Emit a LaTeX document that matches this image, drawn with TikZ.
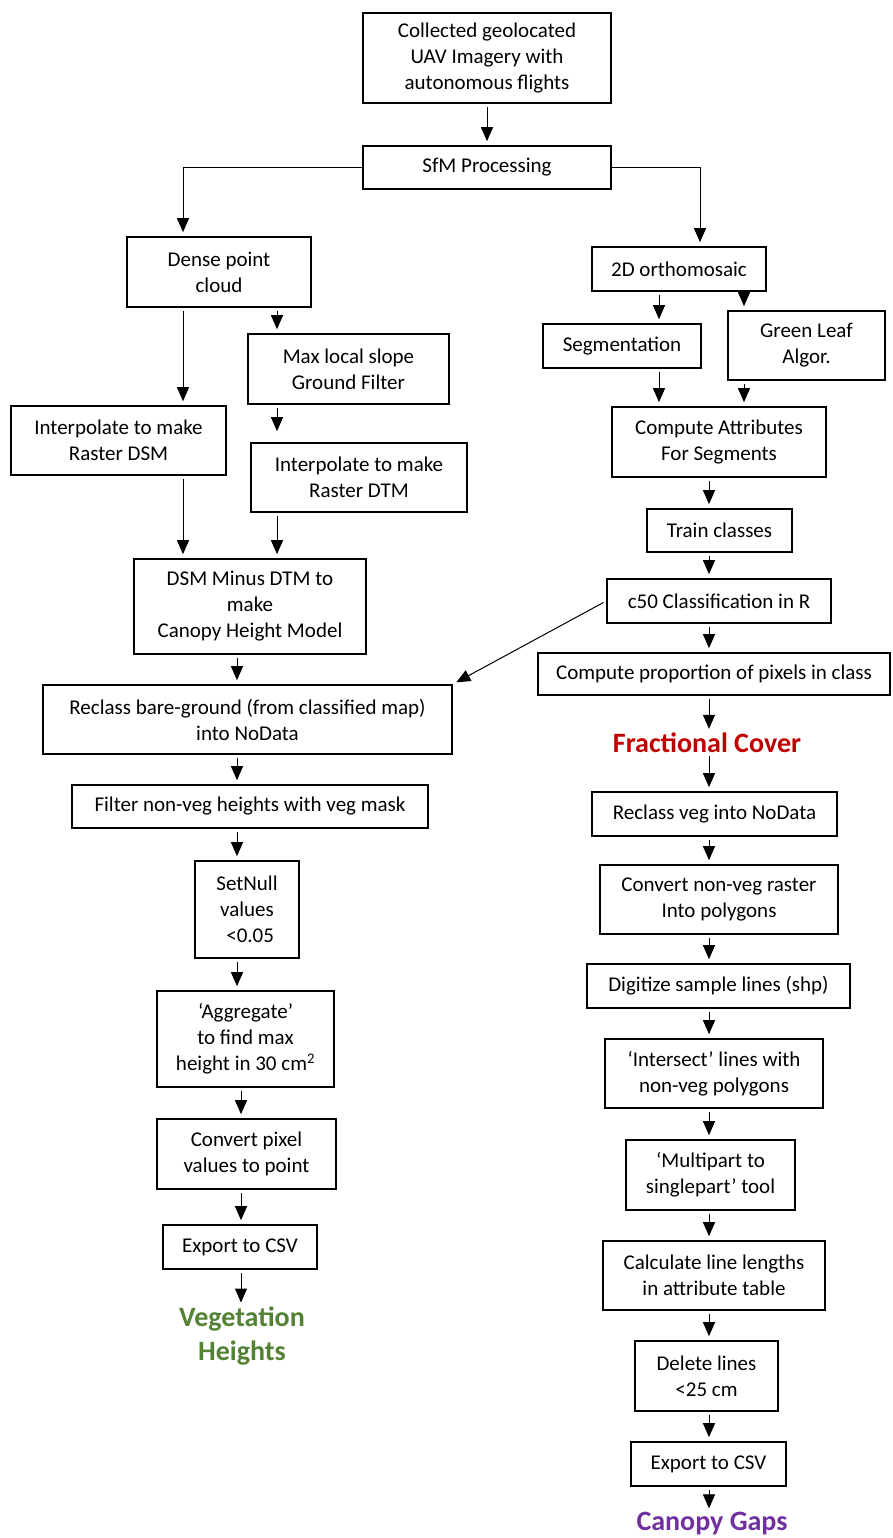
\documentclass[tikz,border=0pt]{standalone}
\usepackage{fontspec}
\setmainfont{Carlito}
\usetikzlibrary{arrows.meta,calc}
\definecolor{fcred}{HTML}{C00000}
\definecolor{vhgreen}{HTML}{548235}
\definecolor{cgpurple}{HTML}{7030A0}
\begin{document}
\begin{tikzpicture}[x=1pt,y=-1pt,
  box/.style={draw=black, line width=1.6pt, align=center, inner sep=0pt, font=\fontsize{21}{26}\selectfont},
  arr/.style={-{Triangle[length=14pt,width=12pt]}, line width=1pt, shorten <=3pt, shorten >=4pt},
  result/.style={align=center, inner sep=0pt, font=\fontsize{28}{34}\selectfont\bfseries}]
\useasboundingbox[fill=white] (0,0) rectangle (892,1538);

% column coordinates
\coordinate (cT) at (487,0);
\coordinate (cS) at (700,0);
\coordinate (cD1) at (183,0);
\coordinate (cD2) at (277,0);
\coordinate (cO1) at (659,0);
\coordinate (cO2) at (744,0);
\coordinate (cR) at (709,0);
\coordinate (cL1) at (237,0);
\coordinate (cL2) at (241,0);

% top
\node[box, minimum width=248pt, minimum height=90pt] (top) at (487,58) {Collected geolocated\\UAV Imagery with\\autonomous flights};
\node[box, minimum width=248pt, minimum height=43pt] (sfm) at (487,167.5) {SfM Processing};

% left branch
\node[box, minimum width=184pt, minimum height=70pt] (dense) at (219,272) {Dense point\\cloud};
\node[box, minimum width=201pt, minimum height=70pt] (maxslope) at (348.5,369) {Max local slope\\Ground Filter};
\node[box, minimum width=215pt, minimum height=69pt] (dsm) at (118.5,440.5) {Interpolate to make\\Raster DSM};
\node[box, minimum width=216pt, minimum height=69pt] (dtm) at (359,477.5) {Interpolate to make\\Raster DTM};
\node[box, minimum width=232pt, minimum height=95pt] (chm) at (250,606.5) {DSM Minus DTM to\\make\\Canopy Height Model};
\node[box, minimum width=409pt, minimum height=69pt] (reclass) at (247.5,719.5) {Reclass bare-ground (from classified map)\\into NoData};
\node[box, minimum width=356pt, minimum height=43pt] (filter) at (250,806.5) {Filter non-veg heights with veg mask};
\node[box, minimum width=104pt, minimum height=97pt] (setnull) at (247,909.5) {SetNull\\values\\\hspace{0.3em}<0.05};
\node[box, minimum width=177pt, minimum height=96pt] (aggregate) at (245.5,1039) {‘Aggregate’\\to find max\\height in 30 cm\textsuperscript{2}};
\node[box, minimum width=179pt, minimum height=70pt] (convpix) at (246.5,1154) {Convert pixel\\values to point};
\node[box, minimum width=154pt, minimum height=44pt] (export1) at (240,1247) {Export to CSV};
\node[result, text=vhgreen] (veg) at (242,1336) {Vegetation\\Heights};

% right branch
\node[box, minimum width=174pt, minimum height=44pt] (ortho) at (679,269) {2D orthomosaic};
\node[box, minimum width=158pt, minimum height=44pt] (seg) at (622,346) {Segmentation};
\node[box, minimum width=157pt, minimum height=69pt] (green) at (806.5,345.5) {Green Leaf\\Algor.};
\node[box, minimum width=214pt, minimum height=70pt] (attr) at (719,442) {Compute Attributes\\For Segments};
\node[box, minimum width=145pt, minimum height=43pt] (train) at (719.5,530.5) {Train classes};
\node[box, minimum width=224pt, minimum height=44pt] (c50) at (719,601) {c50 Classification in R};
\node[box, minimum width=352pt, minimum height=42pt] (prop) at (714,674) {Compute proportion of pixels in class};
\node[result, text=fcred] (fc) at (707,743) {Fractional Cover};
\node[box, minimum width=245pt, minimum height=44pt] (reclassveg) at (714.5,814) {Reclass veg into NoData};
\node[box, minimum width=238pt, minimum height=69pt] (convert) at (719,899.5) {Convert non-veg raster\\Into polygons};
\node[box, minimum width=263pt, minimum height=44pt] (digitize) at (718.5,986) {Digitize sample lines (shp)};
\node[box, minimum width=218pt, minimum height=69pt] (intersect) at (714,1073.5) {‘Intersect’ lines with\\non-veg polygons};
\node[box, minimum width=169pt, minimum height=70pt] (multipart) at (710.5,1175) {‘Multipart to\\singlepart’ tool};
\node[box, minimum width=222pt, minimum height=69pt] (calc) at (714,1275.5) {Calculate line lengths\\in attribute table};
\node[box, minimum width=143pt, minimum height=70pt] (delete) at (706.5,1376) {Delete lines\\<25 cm};
\node[box, minimum width=155pt, minimum height=44pt] (export2) at (708.5,1464) {Export to CSV};
\node[result, text=cgpurple] (gaps) at (712,1524) {Canopy Gaps};

% connectors: top
\draw[arr] (top.south -| cT) -- (sfm.north -| cT);
\draw[arr, shorten <=0pt] (sfm.west) -| (dense.north -| cD1);
\draw[arr, shorten <=0pt] (sfm.east) -| (ortho.north -| cS);

% left
\draw[arr] (dense.south -| cD1) -- (dsm.north -| cD1);
\draw[arr] (dense.south -| cD2) -- (maxslope.north -| cD2);
\draw[arr, shorten >=11pt] (maxslope.south -| cD2) -- (dtm.north -| cD2);
\draw[arr] (dsm.south -| cD1) -- (chm.north -| cD1);
\draw[arr] (dtm.south -| cD2) -- (chm.north -| cD2);
\draw[arr] (chm.south -| cL1) -- (reclass.north -| cL1);
\draw[arr] (reclass.south -| cL1) -- (filter.north -| cL1);
\draw[arr] (filter.south -| cL1) -- (setnull.north -| cL1);
\draw[arr] (setnull.south -| cL1) -- (aggregate.north -| cL1);
\draw[arr] (aggregate.south -| cL2) -- (convpix.north -| cL2);
\draw[arr] (convpix.south -| cL2) -- (export1.north -| cL2);
\draw[arr] (export1.south -| cL2) -- (veg.north -| cL2);

% right
\draw[arr] (ortho.south -| cO1) -- (seg.north -| cO1);
\draw[arr] (ortho.south -| cO2) -- (green.north -| cO2);
\draw[arr] (seg.south -| cO1) -- (attr.north -| cO1);
\draw[arr] (green.south -| cO2) -- (attr.north -| cO2);
\draw[arr] (attr.south -| cR) -- (train.north -| cR);
\draw[arr] (train.south -| cR) -- (c50.north -| cR);
\draw[arr] (c50.west) -- (reclass.north east);
\draw[arr] (c50.south -| cR) -- (prop.north -| cR);
\draw[arr] (prop.south -| cR) -- (fc.north -| cR);
\draw[arr] (fc.south -| cR) -- (reclassveg.north -| cR);
\draw[arr] (reclassveg.south -| cR) -- (convert.north -| cR);
\draw[arr] (convert.south -| cR) -- (digitize.north -| cR);
\draw[arr] (digitize.south -| cR) -- (intersect.north -| cR);
\draw[arr] (intersect.south -| cR) -- (multipart.north -| cR);
\draw[arr] (multipart.south -| cR) -- (calc.north -| cR);
\draw[arr] (calc.south -| cR) -- (delete.north -| cR);
\draw[arr] (delete.south -| cR) -- (export2.north -| cR);
\draw[arr] (export2.south -| cR) -- (gaps.north -| cR);
\end{tikzpicture}
\end{document}
